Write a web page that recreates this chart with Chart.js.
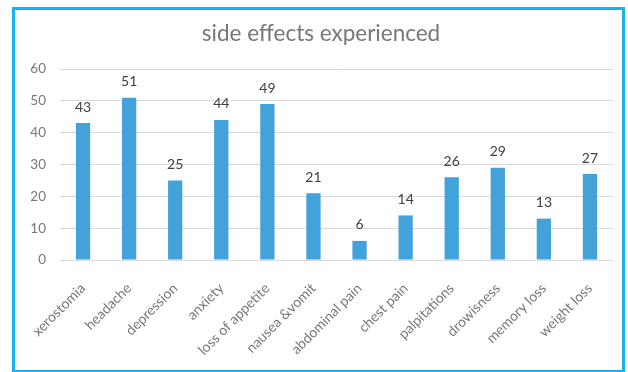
<!DOCTYPE html>
<html>
<head>
<meta charset="utf-8">
<script src="https://cdn.jsdelivr.net/npm/chart.js@4"></script>
<style>
  html, body { margin: 0; padding: 0; background: #ffffff; }
  #wrap { position: relative; width: 628px; height: 372px; }
  #frame { position: absolute; left: 12px; top: 7px; width: 607px; height: 360px; border: 3px solid #19b2ef; box-sizing: content-box; pointer-events: none; }
  canvas { position: absolute; left: 0; top: 0; }
</style>
</head>
<body>
<div id="wrap">
  <canvas id="c" width="628" height="372"></canvas>
  <div id="frame"></div>
</div>
<script>
const categories = ["xerostomia", "headache", "depression", "anxiety", "loss of appetite", "nausea &vomit", "abdominal pain", "chest pain", "palpitations", "drowisness", "memory loss", "weight loss"];
const values = [43, 51, 25, 44, 49, 21, 6, 14, 26, 29, 13, 27];
const yTicks = [0, 10, 20, 30, 40, 50, 60];
const titleText = "side effects experienced";

const valueLabels = {
  id: 'valueLabels',
  afterDatasetsDraw(chart) {
    const ctx = chart.ctx;
    const meta = chart.getDatasetMeta(0);
    ctx.save();
    ctx.font = '14px Lato, "Open Sans", sans-serif';
    ctx.fillStyle = '#404040';
    ctx.textAlign = 'center';
    ctx.textBaseline = 'middle';
    meta.data.forEach((bar, i) => {
      ctx.fillText(String(values[i]), bar.x, bar.y - 16);
    });
    ctx.restore();
  }
};

const customTitle = {
  id: 'customTitle',
  afterDraw(chart) {
    const ctx = chart.ctx;
    ctx.save();
    ctx.font = '22.5px Lato, "Open Sans", sans-serif';
    ctx.fillStyle = '#777777';
    ctx.textAlign = 'center';
    ctx.textBaseline = 'middle';
    ctx.fillText(titleText, 321, 34);
    ctx.restore();
  }
};

new Chart(document.getElementById('c'), {
  type: 'bar',
  data: {
    labels: categories,
    datasets: [{
      data: values,
      backgroundColor: '#44a2db',
      borderWidth: 0,
      categoryPercentage: 1.0,
      barPercentage: 0.31
    }]
  },
  options: {
    responsive: false,
    animation: false,
    devicePixelRatio: 1,
    layout: { padding: { left: 0, right: 15, top: 69, bottom: 0 } },
    plugins: {
      legend: { display: false },
      tooltip: { enabled: false },
      title: { display: false }
    },
    scales: {
      x: {
        grid: { display: false, drawTicks: false },
        border: { display: false },
        ticks: {
          color: '#777777',
          font: { family: 'Lato, "Open Sans", sans-serif', size: 14 },
          minRotation: 45,
          maxRotation: 45,
          padding: 20,
          autoSkip: false
        },
        afterFit(scale) { scale.height = 112; }
      },
      y: {
        min: 0,
        max: 60,
        afterBuildTicks(scale) { scale.ticks = yTicks.map(v => ({ value: v })); },
        grid: { color: '#d9d9d9', lineWidth: 1, drawTicks: false },
        border: { display: false },
        ticks: {
          color: '#777777',
          font: { family: 'Lato, "Open Sans", sans-serif', size: 13.5 },
          padding: 14
        },
        afterFit(scale) { scale.width = 60; }
      }
    }
  },
  plugins: [valueLabels, customTitle]
});
</script>
</body>
</html>
